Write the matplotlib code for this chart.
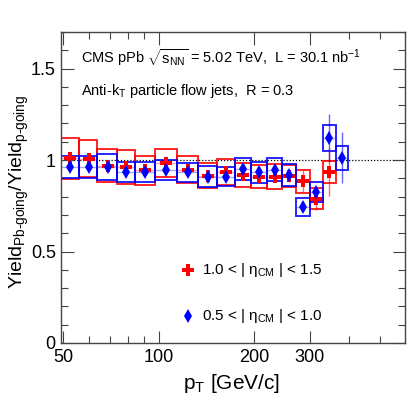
import matplotlib
matplotlib.use("Agg")
import matplotlib.pyplot as plt
from matplotlib.patches import Rectangle
from matplotlib.ticker import FixedLocator, NullFormatter, MultipleLocator
import numpy as np

plt.rcParams['font.family'] = ['Liberation Sans', 'DejaVu Sans']
plt.rcParams['mathtext.fontset'] = 'custom'
plt.rcParams['mathtext.rm'] = 'Liberation Sans'
plt.rcParams['mathtext.it'] = 'Liberation Sans'

# pT bin edges (GeV/c)
bin_edges = [49, 56, 64, 74, 84, 97, 114, 133, 153, 174, 196, 220, 245, 272, 300, 330, 362, 395]

# 1.0 < |eta_CM| < 1.5 (red)
red_val = [1.009, 1.007, 0.970, 0.962, 0.943, 0.985, 0.947, 0.915, 0.933, 0.916,
           0.909, 0.910, 0.912, 0.883, 0.789, 0.935]
red_sys = [0.110, 0.100, 0.090, 0.095, 0.080, 0.078, 0.073, 0.070, 0.071, 0.066,
           0.064, 0.068, 0.062, 0.063, 0.057, 0.058]
red_stat = [0.012, 0.012, 0.012, 0.012, 0.012, 0.014, 0.014, 0.015, 0.016, 0.018,
            0.020, 0.024, 0.030, 0.060, 0.060, 0.130]

# 0.5 < |eta_CM| < 1.0 (blue)
blue_val = [0.963, 0.961, 0.962, 0.934, 0.934, 0.945, 0.932, 0.910, 0.909, 0.950,
            0.932, 0.946, 0.918, 0.744, 0.827, 1.122, 1.012]
blue_sys = [0.059, 0.061, 0.072, 0.054, 0.054, 0.055, 0.054, 0.055, 0.051, 0.059,
            0.059, 0.063, 0.060, 0.050, 0.055, 0.072, 0.065]
blue_stat = [0.010, 0.010, 0.010, 0.010, 0.010, 0.011, 0.012, 0.012, 0.013, 0.014,
             0.016, 0.018, 0.020, 0.022, 0.030, 0.130, 0.140]

x_ticks = [50, 100, 200, 300]
x_minor = [60, 70, 80, 90, 400, 500]
y_ticks = [0, 0.5, 1, 1.5]
y_ticklabels = ["0", "0.5", "1", "1.5"]

fig = plt.figure(figsize=(4.15, 3.99), dpi=100)
ax = fig.add_axes([0.1463, 0.1404, 0.9759 - 0.1463, 0.9198 - 0.1404])
ax.set_xscale('log')
ax.set_xlim(49, 600)
ax.set_ylim(0, 1.7)

ax.axhline(1.0, color='black', ls=(0, (1, 1.5)), lw=0.9, zorder=1)

def draw_series(vals, sys, stat, color, marker, ms):
    n = len(vals)
    lo = np.array(bin_edges[:n], dtype=float)
    hi = np.array(bin_edges[1:n + 1], dtype=float)
    ctr = 0.5 * (lo + hi)
    v = np.array(vals)
    for i in range(n):
        ax.add_patch(Rectangle((lo[i], v[i] - sys[i]), hi[i] - lo[i], 2 * sys[i],
                               fill=False, edgecolor=color, lw=1.4, alpha=0.85, zorder=2))
    ax.hlines(v, lo, hi, colors=color, lw=1.0, alpha=0.35, zorder=2)
    ax.vlines(ctr, v - np.array(stat), v + np.array(stat), colors=color, lw=1.0, alpha=0.6, zorder=3)
    ax.plot(ctr, v, ls='none', marker=marker, color=color, ms=ms, mew=0, zorder=4)

draw_series(red_val, red_sys, red_stat, '#ff0000', 'P', 8)
draw_series(blue_val, blue_sys, blue_stat, '#0000ff', 'd', 7)

ax.xaxis.set_major_locator(FixedLocator(x_ticks))
ax.set_xticklabels([str(t) for t in x_ticks])
ax.xaxis.set_minor_locator(FixedLocator(x_minor))
ax.xaxis.set_minor_formatter(NullFormatter())
ax.yaxis.set_major_locator(FixedLocator(y_ticks))
ax.set_yticklabels(y_ticklabels)
ax.yaxis.set_minor_locator(MultipleLocator(0.1))

ax.tick_params(which='both', direction='in', top=True, right=True, labelsize=13, width=0.8, color='#444444')
ax.tick_params(which='major', length=9)
ax.tick_params(which='minor', length=5)
ax.tick_params(axis='x', pad=4)
for sp in ax.spines.values():
    sp.set_linewidth(1.0)
    sp.set_color('#444444')

ax.set_xlabel(r'p$_\mathregular{T}$ [GeV/c]', fontsize=15)
ax.xaxis.set_label_coords(0.497, -0.13)
ax.xaxis.label.set_va('center')
ax.set_ylabel(r'Yield$_\mathregular{Pb\text{-}going}$/Yield$_\mathregular{p\text{-}going}$', fontsize=14)
ax.yaxis.set_label_coords(-0.12, 0.485)
ax.yaxis.label.set_va('center')

ax.text(0.06, 0.918, r'CMS pPb $\sqrt{\mathregular{s}_\mathregular{NN}}$ = 5.02 TeV,  L = 30.1 nb$^\mathregular{-1}$',
        transform=ax.transAxes, fontsize=10.5, va='center')
ax.text(0.06, 0.81, r'Anti-k$_\mathregular{T}$ particle flow jets,  R = 0.3',
        transform=ax.transAxes, fontsize=10.5, va='center')

# legend
ax.plot([0.37], [0.236], transform=ax.transAxes, marker='P', color='#ff0000', ms=8, mew=0, ls='none')
ax.text(0.41, 0.236, r'1.0 < | $\eta_\mathregular{CM}$ | < 1.5', transform=ax.transAxes, fontsize=11, va='center')
ax.plot([0.37], [0.088], transform=ax.transAxes, marker='d', color='#0000ff', ms=7, mew=0, ls='none')
ax.text(0.41, 0.088, r'0.5 < | $\eta_\mathregular{CM}$ | < 1.0', transform=ax.transAxes, fontsize=11, va='center')

fig.savefig('out.png', dpi=100)
